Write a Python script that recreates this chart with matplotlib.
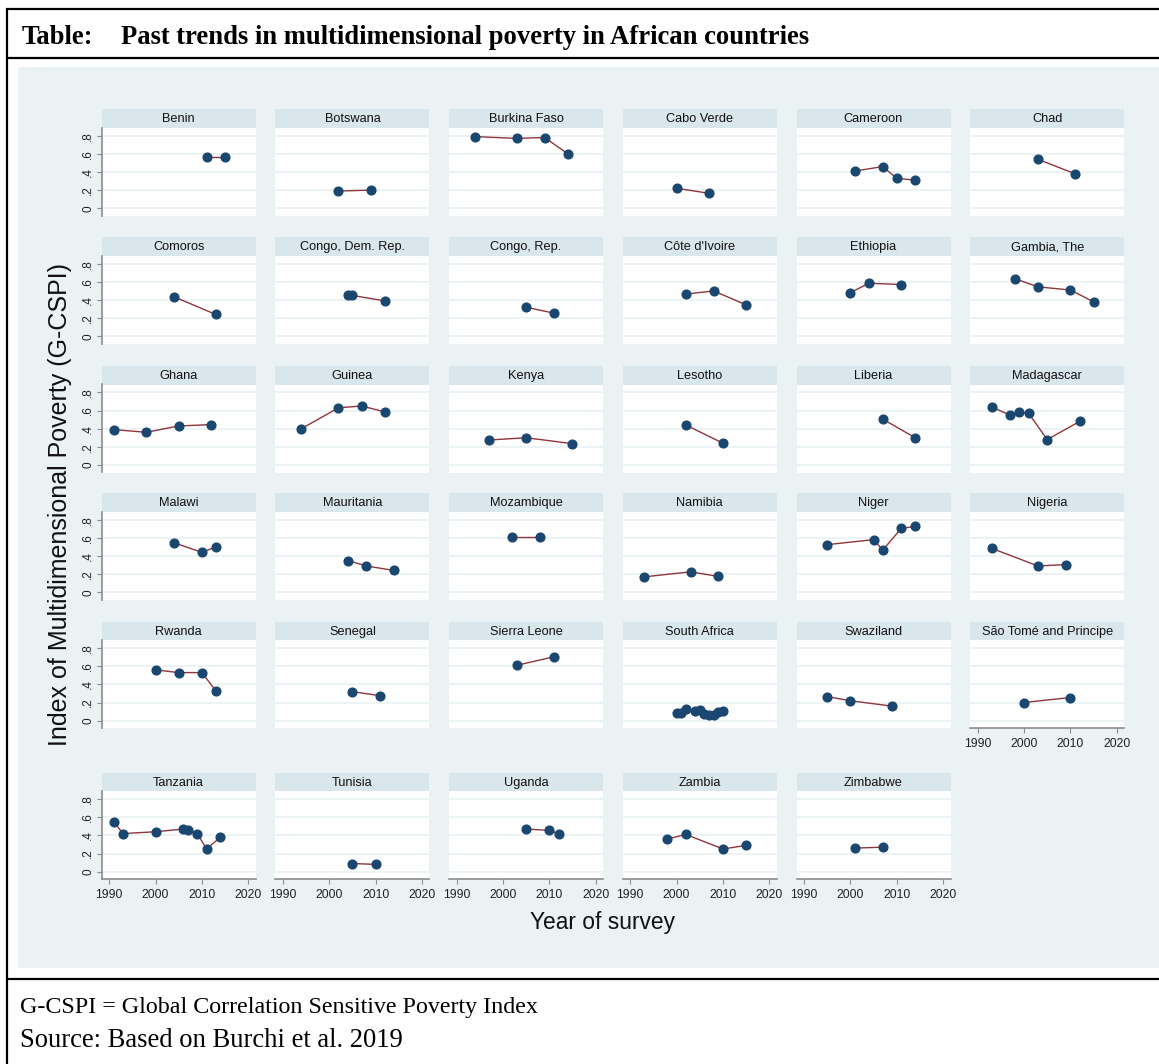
import matplotlib
matplotlib.use("Agg")
import matplotlib.pyplot as plt
from matplotlib.lines import Line2D
from matplotlib.patches import Rectangle

# ---------------- data ----------------
countries = [
    "Benin", "Botswana", "Burkina Faso", "Cabo Verde", "Cameroon", "Chad",
    "Comoros", "Congo, Dem. Rep.", "Congo, Rep.", "Côte d'Ivoire", "Ethiopia", "Gambia, The",
    "Ghana", "Guinea", "Kenya", "Lesotho", "Liberia", "Madagascar",
    "Malawi", "Mauritania", "Mozambique", "Namibia", "Niger", "Nigeria",
    "Rwanda", "Senegal", "Sierra Leone", "South Africa", "Swaziland", "São Tomé and Principe",
    "Tanzania", "Tunisia", "Uganda", "Zambia", "Zimbabwe",
]

survey_years = [
    [2011, 2015], [2002, 2009], [1994, 2003, 2009, 2014], [2000, 2007], [2001, 2007, 2010, 2014], [2003, 2011],
    [2004, 2013], [2004, 2005, 2012], [2005, 2011], [2002, 2008, 2015], [2000, 2004, 2011], [1998, 2003, 2010, 2015],
    [1991, 1998, 2005, 2012], [1994, 2002, 2007, 2012], [1997, 2005, 2015], [2002, 2010], [2007, 2014],
    [1993, 1997, 1999, 2001, 2005, 2012],
    [2004, 2010, 2013], [2004, 2008, 2014], [2002, 2008], [1993, 2003, 2009], [1995, 2005, 2007, 2011, 2014],
    [1993, 2003, 2009],
    [2000, 2005, 2010, 2013], [2005, 2011], [2003, 2011],
    [2000, 2001, 2002, 2004, 2005, 2006, 2007, 2008, 2009, 2010], [1995, 2000, 2009], [2000, 2010],
    [1991, 1993, 2000, 2006, 2007, 2009, 2011, 2014], [2005, 2010], [2005, 2010, 2012], [1998, 2002, 2010, 2015],
    [2001, 2007],
]

gcspi = [
    [0.57, 0.57], [0.19, 0.20], [0.79, 0.77, 0.78, 0.60], [0.22, 0.165], [0.41, 0.46, 0.33, 0.31], [0.54, 0.38],
    [0.435, 0.24], [0.45, 0.45, 0.39], [0.32, 0.255], [0.465, 0.50, 0.345], [0.48, 0.585, 0.57], [0.635, 0.545, 0.51, 0.38],
    [0.39, 0.36, 0.43, 0.445], [0.40, 0.63, 0.65, 0.585], [0.275, 0.30, 0.235], [0.44, 0.24], [0.505, 0.30],
    [0.64, 0.55, 0.58, 0.57, 0.28, 0.48],
    [0.545, 0.44, 0.50], [0.35, 0.29, 0.24], [0.61, 0.61], [0.17, 0.225, 0.175], [0.525, 0.58, 0.465, 0.705, 0.725],
    [0.485, 0.29, 0.305],
    [0.56, 0.53, 0.53, 0.33], [0.32, 0.275], [0.61, 0.705],
    [0.09, 0.09, 0.125, 0.11, 0.12, 0.07, 0.06, 0.06, 0.10, 0.11], [0.265, 0.22, 0.16], [0.20, 0.255],
    [0.55, 0.42, 0.44, 0.47, 0.46, 0.42, 0.25, 0.38], [0.09, 0.08], [0.47, 0.455, 0.42], [0.36, 0.41, 0.25, 0.29],
    [0.26, 0.27],
]

y_ticks = [0, 0.2, 0.4, 0.6, 0.8]
y_ticklabels = ["0", ".2", ".4", ".6", ".8"]
x_ticks = [1990, 2000, 2010, 2020]
x_ticklabels = ["1990", "2000", "2010", "2020"]

title_label = "Table:"
title_text = "Past trends in multidimensional poverty in African countries"
ylabel = "Index of Multidimensional Poverty (G-CSPI)"
xlabel = "Year of survey"
note1 = "G-CSPI = Global Correlation Sensitive Poverty Index"
note2 = "Source: Based on Burchi et al. 2019"

# ---------------- style ----------------
W, H = 1159, 1064
BG = "#EAF2F3"
HEAD = "#D9E6EB"
GRID = "#EAF2F3"
MARK = "#1A476F"
LINE = "#90353B"
AXC = "#8C8C8C"
SANS = ["Liberation Sans", "DejaVu Sans"]
SERIF = ["Liberation Serif", "DejaVu Serif"]

fig = plt.figure(figsize=(W / 100, H / 100), dpi=100)
fig.patch.set_facecolor("white")


def fx(px):
    return px / W


def fy(py):
    return 1 - py / H


# background of the graph region
fig.add_artist(Rectangle((fx(18), fy(968)), fx(W) - fx(18), fy(67) - fy(968),
                         transform=fig.transFigure, facecolor=BG, edgecolor="none", zorder=0))

# table frame lines
for (x0, y0, x1, y1) in [(6, 9, W, 9), (6, 57.5, W, 57.5), (6, 979, W, 979), (7, 8, 7, H)]:
    fig.add_artist(Line2D([fx(x0), fx(x1)], [fy(y0), fy(y1)], transform=fig.transFigure,
                          color="black", lw=1.6, solid_capstyle="butt", zorder=5))

fig.text(fx(22), fy(43.5), title_label, fontsize=19.2, fontweight="bold", family=SERIF,
         ha="left", va="baseline")
fig.text(fx(121), fy(43.5), title_text, fontsize=19.2, fontweight="bold", family=SERIF,
         ha="left", va="baseline")
fig.text(fx(20), fy(1013), note1, fontsize=17.3, family=SERIF, ha="left", va="baseline")
fig.text(fx(20), fy(1047), note2, fontsize=19.2, family=SERIF, ha="left", va="baseline")

# ---------------- panels ----------------
col_left = [101.7 + 173.7 * k for k in range(6)]
row_top = [109.3, 237.3, 366.0, 493.3, 621.7, 772.7]
HEAD_H = 18.5
PLOT_H = 88.0
PANEL_W = 154.0
n = len(countries)

for i, name in enumerate(countries):
    r, c = divmod(i, 6)
    left = col_left[c]
    top = row_top[r]

    hax = fig.add_axes([fx(left), fy(top + HEAD_H), PANEL_W / W, HEAD_H / H])
    hax.set_facecolor(HEAD)
    hax.set_xticks([])
    hax.set_yticks([])
    for s in hax.spines.values():
        s.set_visible(False)
    hax.text(0.5, 0.45, name, ha="center", va="center", fontsize=9.2, family=SANS, color="#111111",
             transform=hax.transAxes)

    ax = fig.add_axes([fx(left), fy(top + HEAD_H + PLOT_H), PANEL_W / W, PLOT_H / H])
    ax.set_facecolor("white")
    ax.set_xlim(1988.4, 2021.6)
    ax.set_ylim(-0.083, 0.887)
    ax.set_yticks(y_ticks)
    ax.set_xticks(x_ticks)
    ax.grid(axis="y", color=GRID, lw=1.3)
    ax.set_axisbelow(True)
    for s in ax.spines.values():
        s.set_visible(False)

    ax.plot(survey_years[i], gcspi[i], color=LINE, lw=1.0, zorder=2)
    ax.plot(survey_years[i], gcspi[i], linestyle="none", marker="o", ms=6.3,
            color=MARK, mec=MARK, zorder=3)

    if c == 0:
        ax.spines["left"].set_visible(True)
        ax.spines["left"].set_color(AXC)
        ax.spines["left"].set_linewidth(1.2)
        ax.set_yticklabels(y_ticklabels, rotation=90, va="center", fontsize=8.5, family=SANS,
                           color="#222222")
        ax.tick_params(axis="y", length=3.5, width=0.8, color=AXC, pad=2)
    else:
        ax.tick_params(axis="y", length=0, labelleft=False)

    bottom_panel = (i >= n - 6)
    if bottom_panel:
        ax.spines["bottom"].set_visible(True)
        ax.spines["bottom"].set_color(AXC)
        ax.spines["bottom"].set_linewidth(1.2)
        ax.set_xticklabels(x_ticklabels, fontsize=8.8, family=SANS, color="#222222")
        ax.tick_params(axis="x", length=3.5, width=0.8, color=AXC, pad=3.5)
    else:
        ax.tick_params(axis="x", length=0, labelbottom=False)

fig.text(fx(60), fy(505), ylabel, rotation=90, ha="center", va="center", fontsize=18,
         family=SANS, color="#111111")
fig.text(fx(602), fy(923), xlabel, ha="center", va="center", fontsize=16.4,
         family=SANS, color="#111111")

fig.savefig("out.png", dpi=100, facecolor="white")
